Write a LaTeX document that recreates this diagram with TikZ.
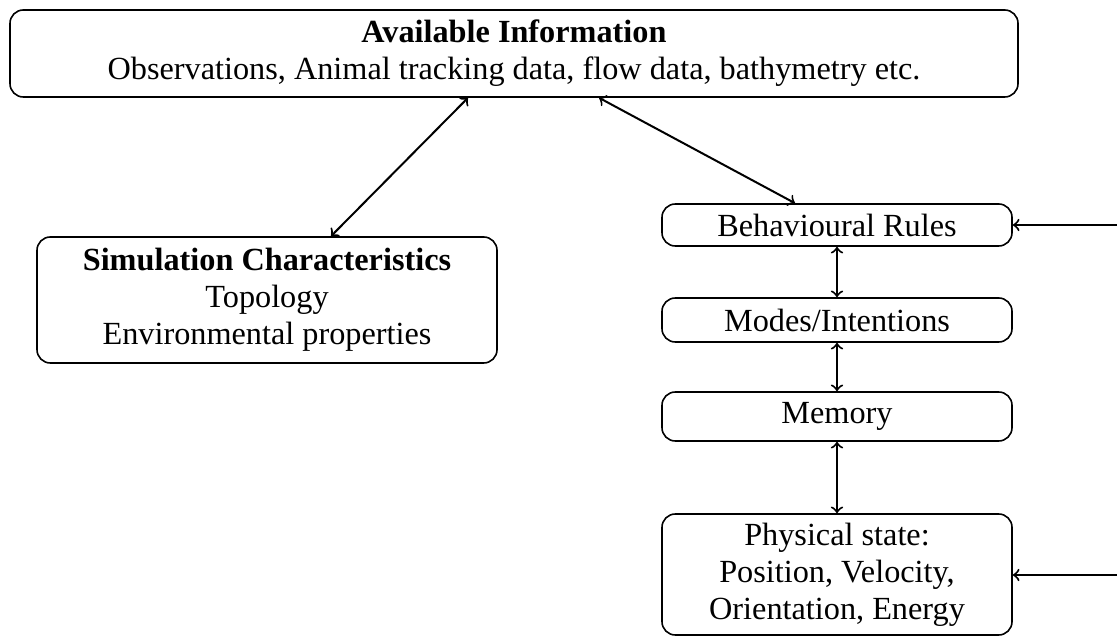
\documentclass[tikz,border=0pt]{standalone}
\usepackage{fontspec}
\setmainfont{Liberation Serif}
\newdimen\pxu
\pxu=0.375pt
\begin{document}
\begin{tikzpicture}[x=0.375pt, y=-0.375pt,
  box/.style={draw, rounded corners=5pt, line width=0.6pt, align=center,
    inner sep=0pt, font=\fontsize{12.1}{13.8}\selectfont},
  link/.style={<->, line width=0.75pt},
  feed/.style={->, line width=0.75pt}
]
\useasboundingbox (0,0) rectangle (1117,637);

% information sources
\node[box, minimum width=1008\pxu, minimum height=87\pxu] (info) at (514,53.5)
  {\textbf{Available Information}\\Observations, Animal tracking data, flow data, bathymetry etc.};

% environment model
\node[box, minimum width=460\pxu, minimum height=126\pxu] (sim) at (267,300)
  {\textbf{Simulation Characteristics}\\Topology\\Environmental properties};

% agent model stack
\node[box, minimum width=350\pxu, minimum height=42\pxu] (rules) at (837,225) {Behavioural Rules};
\node[box, minimum width=350\pxu, minimum height=44\pxu] (modes) at (837,320) {Modes/Intentions};
\node[box, minimum width=350\pxu, minimum height=49\pxu] (memory) at (837,416.5) {Memory};
\node[box, minimum width=350\pxu, minimum height=121\pxu] (phys) at (837,574.5)
  {Physical state:\\Position, Velocity,\\Orientation, Energy};

% attachment points for the slanted links
\coordinate (xa) at (468,0);
\coordinate (xb) at (599,0);
\coordinate (xc) at (331,0);
\coordinate (xd) at (795,0);
% free ends of the incoming arrows at the right border
\coordinate (inRules) at (1117,225);
\coordinate (inPhys) at (1117,575);

\draw[link] (info.south -| xa) -- (sim.north -| xc);
\draw[link] (info.south -| xb) -- (rules.north -| xd);
\draw[link] (rules) -- (modes);
\draw[link] (modes) -- (memory);
\draw[link] (memory) -- (phys);
\draw[feed] (inRules) -- (inRules -| rules.east);
\draw[feed] (inPhys) -- (inPhys -| phys.east);
\end{tikzpicture}
\end{document}
